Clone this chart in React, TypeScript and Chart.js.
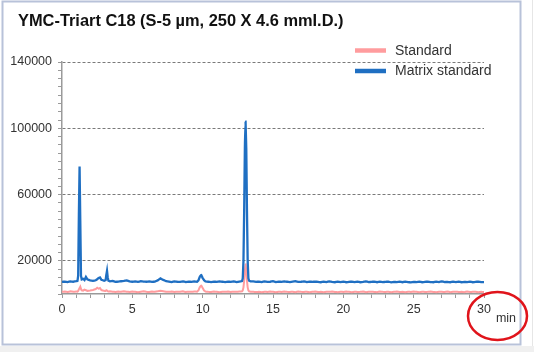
import { useEffect, useRef } from "react";
import { Chart, registerables } from "chart.js";

Chart.register(...registerables);

const TITLE = "YMC-Triart C18 (S-5 µm, 250 X 4.6 mmI.D.)";
const SERIES_NAMES = ["Standard", "Matrix standard"];
const SERIES_COLORS = ["#ff9c9e", "#1f6fc2"];
const X_UNIT = "min";
const Y_LABELED = [20000, 60000, 100000, 140000];
const X_LABELED = [0, 5, 10, 15, 20, 25, 30];

// retention time (min)
const TIMES = [
  0, 0.2, 0.4, 0.6, 0.8, 1.0,
  1.1, 1.15, 1.2, 1.25, 1.3, 1.35, 1.4,
  1.5, 1.6, 1.7, 1.8, 2.0, 2.2, 2.4, 2.5, 2.6, 2.7, 2.8, 3.0,
  3.1, 3.15, 3.2, 3.25, 3.3, 3.4,
  3.6, 3.8, 4.0, 4.2, 4.4, 4.6, 4.8, 5.0, 5.2, 5.4, 5.6, 5.8, 6.0, 6.2, 6.4, 6.6, 6.8, 7.0, 7.2, 7.4,
  7.6, 7.8, 8.0, 8.2, 8.4, 8.6, 8.8, 9.0, 9.2, 9.4, 9.6,
  9.7, 9.8, 9.9, 10.0, 10.1, 10.2,
  10.4, 10.6, 10.8, 11.0, 11.2, 11.4, 11.6, 11.8, 12.0, 12.2, 12.4, 12.6, 12.8,
  12.85, 12.9, 12.95, 13.0, 13.05, 13.1, 13.15, 13.2, 13.25, 13.3, 13.4,
  13.6, 13.8,
  14.0, 14.2, 14.4, 14.6, 14.8, 15.0, 15.2, 15.4, 15.6, 15.8,
  16.0, 16.2, 16.4, 16.6, 16.8, 17.0, 17.2, 17.4, 17.6, 17.8,
  18.0, 18.2, 18.4, 18.6, 18.8, 19.0, 19.2, 19.4, 19.6, 19.8,
  20.0, 20.2, 20.4, 20.6, 20.8, 21.0, 21.2, 21.4, 21.6, 21.8,
  22.0, 22.2, 22.4, 22.6, 22.8, 23.0, 23.2, 23.4, 23.6, 23.8,
  24.0, 24.2, 24.4, 24.6, 24.8, 25.0, 25.2, 25.4, 25.6, 25.8,
  26.0, 26.2, 26.4, 26.6, 26.8, 27.0, 27.2, 27.4, 27.6, 27.8,
  28.0, 28.2, 28.4, 28.6, 28.8, 29.0, 29.2, 29.4, 29.6, 29.8,
  30.0,
];

// Matrix standard signal
const MATRIX = [
  7300, 7500, 7200, 7600, 7400, 7700,
  7900, 11000, 48000, 77000, 44000, 11000, 8800,
  9200, 8400, 10300, 8800, 8200, 7900, 8300, 8900, 9600, 10000, 8600, 8000,
  8300, 11500, 14000, 10000, 8000, 7600,
  7900, 7300, 7500, 7700, 7900, 8200, 7600, 7400, 7600, 7300, 7700, 7500, 7400, 7600, 7300, 7500, 8200, 9400, 8500, 7700,
  7500, 7200, 7600, 7400, 7300, 7600, 7200, 7500, 7300, 7600, 7400,
  8200, 10500, 11500, 9600, 8300, 7600,
  7400, 7200, 7500, 7300, 7600, 7400, 7200, 7500, 7300, 7600, 7200, 7500, 7800,
  9500, 20000, 50000, 88000, 104000, 88000, 50000, 20000, 9500, 8000, 7600,
  7600, 7300,
  7500, 7200, 7600, 7300, 7400, 7700, 7200, 7500, 7300, 7600,
  7400, 7200, 7500, 7700, 7300, 7400, 7600, 7200, 7500, 7300,
  7500, 7300, 7100, 7400, 7200, 7600, 7300, 7100, 7500, 7200,
  7400, 7100, 7300, 7500, 7200, 7400, 7100, 7300, 7600, 7200,
  7300, 7500, 7100, 7400, 7200, 7300, 7500, 7000, 7300, 7200,
  7400, 7100, 7500, 7200, 7000, 7300, 7200, 7400, 7100, 7300,
  7500, 7200, 7100, 7400, 7200, 7600, 7200, 7300, 7100, 7400,
  7200, 7500, 7100, 7300, 7200, 7400, 7100, 7300, 7500, 7200,
  7200,
];

// Standard signal
const STANDARD = [
  1300, 1500, 1200, 1600, 1300, 1500,
  1400, 1800, 2800, 3600, 4400, 3000, 2200,
  2000, 2600, 2300, 1900, 2100, 2400, 3000, 3800, 3200, 3600, 2400, 1900,
  1800, 2300, 2100, 1700, 1500, 1600,
  1400, 1200, 1500, 1300, 1600, 1400, 1200, 1500, 1300, 1100, 1400, 1600, 1300, 1200, 1500, 1300, 1600, 2000, 1700, 1400,
  1300, 1500, 1200, 1400, 1300, 1600, 1200, 1400, 1300, 1500, 1400,
  2200, 4200, 5100, 3600, 2100, 1500,
  1300, 1200, 1500, 1300, 1100, 1400, 1300, 1500, 1200, 1400, 1300, 1500, 1600,
  2200, 4000, 8000, 14000, 18000, 14000, 8000, 4000, 2200, 1600, 1400,
  1300, 1200,
  1300, 1100, 1400, 1200, 1500, 1300, 1100, 1400, 1200, 1500,
  1300, 1200, 1400, 1100, 1500, 1300, 1200, 1400, 1100, 1300,
  1500, 1200, 1300, 1100, 1400, 1300, 1500, 1200, 1100, 1400,
  1200, 1500, 1300, 1100, 1400, 1200, 1300, 1500, 1100, 1300,
  1400, 1200, 1100, 1500, 1300, 1200, 1400, 1100, 1300, 1500,
  1200, 1300, 1100, 1400, 1200, 1500, 1300, 1100, 1400, 1200,
  1300, 1500, 1200, 1100, 1400, 1300, 1200, 1500, 1100, 1300,
  1400, 1200, 1300, 1100, 1500, 1200, 1300, 1400, 1100, 1300,
  1200,
];

const FONT = "'Liberation Sans', Arial, sans-serif";

const decor = {
  id: "decor",
  beforeDraw(chart: any) {
    const c = chart.ctx;
    c.save();
    c.fillStyle = "#ffffff";
    c.fillRect(0, 0, chart.width, chart.height);
    c.fillStyle = "#f0f0f0";
    c.fillRect(0, 346, chart.width, chart.height - 346);
    c.strokeStyle = "#e6e6e6";
    c.lineWidth = 1;
    c.beginPath();
    c.moveTo(532.5, 0);
    c.lineTo(532.5, 346);
    c.stroke();
    c.strokeStyle = "#b8c2d9";
    c.lineWidth = 2;
    c.strokeRect(2.5, 1.5, 518, 343);
    c.restore();
  },
  afterDraw(chart: any) {
    const c = chart.ctx;
    c.save();
    // title
    c.fillStyle = "#111";
    c.font = `bold 16.4px ${FONT}`;
    c.textAlign = "left";
    c.textBaseline = "alphabetic";
    c.fillText(TITLE, 18, 26);
    // legend
    const rows = [50.5, 71];
    c.font = `14px ${FONT}`;
    c.textBaseline = "middle";
    SERIES_NAMES.forEach((name, i) => {
      c.strokeStyle = SERIES_COLORS[i];
      c.lineWidth = 4.5;
      c.beginPath();
      c.moveTo(355, rows[i]);
      c.lineTo(386, rows[i]);
      c.stroke();
      c.fillStyle = "#333";
      c.fillText(name, 395, rows[i] + 0.5);
    });
    // unit
    c.font = `12.5px ${FONT}`;
    c.fillStyle = "#333";
    c.textAlign = "center";
    c.fillText(X_UNIT, 506, 318.5);
    // red circle
    c.strokeStyle = "#e0141b";
    c.lineWidth = 2.5;
    c.beginPath();
    c.ellipse(497.5, 316, 29.5, 24, 0, 0, Math.PI * 2);
    c.stroke();
    c.restore();
  },
};

export default function App() {
  const ref = useRef<HTMLCanvasElement | null>(null);
  useEffect(() => {
    if (!ref.current) return;
    Chart.defaults.font.family = FONT;
    const chart = new Chart(ref.current, {
      type: "line",
      data: {
        datasets: [
          {
            label: SERIES_NAMES[0],
            data: TIMES.map((t, i) => ({ x: t, y: STANDARD[i] })),
            borderColor: SERIES_COLORS[0],
            borderWidth: 2,
            pointRadius: 0,
            tension: 0.0001,
            order: 1,
          },
          {
            label: SERIES_NAMES[1],
            data: TIMES.map((t, i) => ({ x: t, y: MATRIX[i] })),
            borderColor: SERIES_COLORS[1],
            borderWidth: 2.3,
            pointRadius: 0,
            tension: 0.0001,
            order: 0,
          },
        ],
      },
      options: {
        responsive: false,
        animation: false,
        events: [],
        layout: { padding: { top: 62, right: 50, bottom: 0, left: 0 } },
        plugins: { legend: { display: false }, title: { display: false }, tooltip: { enabled: false } },
        scales: {
          x: {
            type: "linear",
            min: 0,
            max: 30,
            afterFit: (s: any) => {
              s.height = 58;
              s.paddingLeft = 0;
              s.paddingRight = 0;
            },
            ticks: {
              stepSize: 1,
              autoSkip: false,
              maxRotation: 0,
              maxTicksLimit: 100,
              padding: 4,
              color: "#333",
              font: { size: 12.5, family: FONT },
              callback: (v: any) => (X_LABELED.includes(Number(v)) ? String(v) : ""),
            },
            grid: { drawOnChartArea: false, tickLength: 4, tickColor: "#9a9a9a", tickWidth: 1 },
            border: { color: "#9a9a9a", width: 1.5 },
          },
          y: {
            type: "linear",
            min: 0,
            max: 140000,
            afterFit: (s: any) => {
              s.width = 62;
              s.paddingTop = 0;
              s.paddingBottom = 0;
            },
            ticks: {
              stepSize: 5000,
              autoSkip: false,
              maxTicksLimit: 100,
              padding: 6,
              color: "#333",
              font: { size: 12.5, family: FONT },
              callback: (v: any) => (Y_LABELED.includes(Number(v)) ? String(v) : ""),
            },
            grid: {
              color: (ctx: any) => (ctx.tick && Y_LABELED.includes(ctx.tick.value) ? "#7a7a7a" : "rgba(0,0,0,0)"),
              lineWidth: 1,
              tickLength: 4,
              tickColor: "#9a9a9a",
              tickWidth: 1,
            },
            border: { color: "#9a9a9a", width: 1.5, dash: [3, 2] },
          },
        },
      },
      plugins: [decor],
    });
    return () => chart.destroy();
  }, []);
  return (
    <div style={{ position: "absolute", left: 0, top: 0, width: 534, height: 352 }}>
      <canvas ref={ref} width={534} height={352} style={{ display: "block", width: 534, height: 352 }} />
    </div>
  );
}
